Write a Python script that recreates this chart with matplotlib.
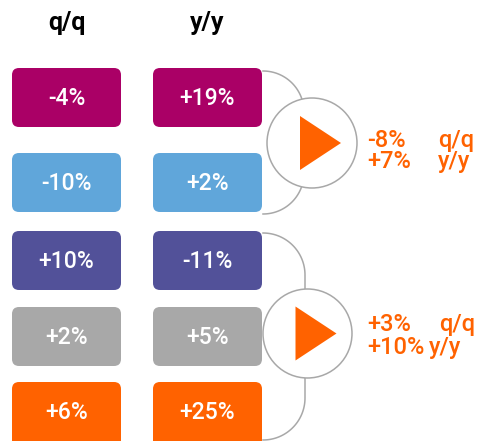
import numpy as np
import matplotlib
matplotlib.use("Agg")
import matplotlib.pyplot as plt
from matplotlib.patches import FancyBboxPatch, Circle, Polygon

plt.rcParams["font.family"] = ["Roboto", "DejaVu Sans"]

# data
headers = ["q/q", "y/y"]
qq_change = [-4, -10, 10, 2, 6]
yy_change = [19, 2, -11, 5, 25]
row_colors = ["#AA0066", "#60A6DA", "#525199", "#A8A8A8", "#FF6200"]
group_qq = [-8, 3]
group_yy = [7, 10]

ORANGE = "#FF6200"
LINE = "#A8A8A8"

# layout (pixel coordinates, y down)
col_x = [12, 153]
box_w = 109
box_h = 59
row_top = [68, 153, 231, 307, 382]
groups = [
    dict(y0=71, y1=214, bx=304, cx=312, cy=143, r=45,
         ty=(147, 168), lx=(438, 438)),
    dict(y0=233, y1=440, bx=305, cx=307.5, cy=333.5, r=44.5,
         ty=(331, 354), lx=(439, 429)),
]


def pct(v):
    return f"{v:+d}%"


fig = plt.figure(figsize=(4.78, 4.41), dpi=100)
ax = fig.add_axes([0, 0, 1, 1])
ax.set_xlim(0, 478)
ax.set_ylim(441, 0)
ax.axis("off")

# column headers
for i, h in enumerate(headers):
    ax.text(col_x[i] + box_w / 2, 30, h, ha="center", va="baseline",
            fontsize=18, fontweight="bold", color="black")

# boxes
for j, vals in enumerate([qq_change, yy_change]):
    for i, v in enumerate(vals):
        top = row_top[i]
        h = box_h if i < len(vals) - 1 else box_h + 8
        box = FancyBboxPatch((col_x[j], top), box_w, h,
                             boxstyle="round,pad=0,rounding_size=7",
                             facecolor=row_colors[i], edgecolor="none", zorder=2)
        ax.add_patch(box)
        ax.text(col_x[j] + box_w / 2, top + 37, pct(v), ha="center",
                va="baseline", fontsize=16.5, fontweight="medium",
                color="white", zorder=3)

# brackets, circles, arrows and summary text
left = col_x[1] + box_w + 1
for k, g in enumerate(groups):
    r = g["bx"] - left
    t = np.linspace(0, np.pi / 2, 40)
    xs = left + r * np.sin(t)
    ys_top = g["y0"] + r - r * np.cos(t)
    ax.plot(np.r_[xs, g["bx"]], np.r_[ys_top, g["cy"]], color=LINE, lw=1.1, zorder=1)
    ys_bot = g["y1"] - r + r * np.cos(t)
    ax.plot(np.r_[g["bx"], xs[::-1]], np.r_[g["cy"], ys_bot[::-1]], color=LINE, lw=1.1, zorder=1)

    ax.add_patch(Circle((g["cx"], g["cy"]), g["r"], facecolor="white",
                        edgecolor=LINE, lw=1.1, zorder=4))
    tri = [(g["cx"] - 12, g["cy"] - 27), (g["cx"] - 12, g["cy"] + 27), (g["cx"] + 29, g["cy"])]
    ax.add_patch(Polygon(tri, closed=True, facecolor=ORANGE, edgecolor="none", zorder=5))

    for line, (val, lab) in enumerate([(group_qq[k], "q/q"), (group_yy[k], "y/y")]):
        ax.text(367, g["ty"][line], pct(val), ha="left", va="baseline",
                fontsize=17, fontweight="medium", color=ORANGE)
        ax.text(g["lx"][line], g["ty"][line], lab, ha="left", va="baseline",
                fontsize=17, fontweight="medium", color=ORANGE)

fig.savefig("out.png", dpi=100)
